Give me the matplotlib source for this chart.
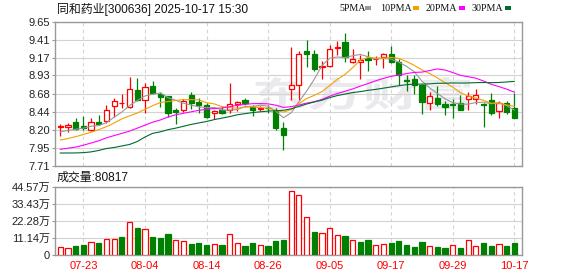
import matplotlib
matplotlib.use("Agg")
import matplotlib.pyplot as plt
from matplotlib.patches import Rectangle, PathPatch
from matplotlib.textpath import TextPath
from matplotlib.font_manager import FontProperties
from matplotlib.transforms import Affine2D, IdentityTransform

# ---------------- data ----------------
dates = ["07-18", "07-21", "07-22", "07-23", "07-24", "07-25", "07-28", "07-29", "07-30", "07-31",
         "08-01", "08-04", "08-05", "08-06", "08-07", "08-08", "08-11", "08-12", "08-13", "08-14",
         "08-15", "08-18", "08-19", "08-20", "08-21", "08-22", "08-25", "08-26", "08-27", "08-28",
         "08-29", "09-01", "09-02", "09-03", "09-04", "09-05", "09-08", "09-09", "09-10", "09-11",
         "09-12", "09-15", "09-16", "09-17", "09-18", "09-19", "09-22", "09-23", "09-24", "09-25",
         "09-26", "09-29", "09-30", "10-09", "10-10", "10-13", "10-14", "10-15", "10-16", "10-17"]
date_labels = ["07-23", "08-04", "08-14", "08-26", "09-05", "09-17", "09-29", "10-17"]

opens = [8.235, 8.235, 8.30, 8.243, 8.19, 8.306, 8.315, 8.516, 8.555, 8.507,
         8.735, 8.596, 8.793, 8.686, 8.65, 8.471, 8.471, 8.663, 8.574, 8.529,
         8.418, 8.471, 8.471, 8.547, 8.605, 8.503, 8.48, 8.497, 8.449, 8.217,
         8.753, 8.798, 9.258, 9.218, 9.048, 9.052, 9.305, 9.379, 9.11, 9.11,
         9.169, 9.148, 9.173, 9.218, 9.106, 8.864, 8.883, 8.798, 8.556, 8.628,
         8.547, 8.547, 8.561, 8.619, 8.619, 8.547, 8.605, 8.449, 8.561, 8.494]
highs = [8.27, 8.283, 8.35, 8.38, 8.36, 8.395, 8.53, 8.628, 8.686, 8.905,
         8.896, 8.83, 8.851, 8.708, 8.659, 8.494, 8.614, 8.708, 8.628, 8.56,
         8.471, 8.50, 8.83, 8.592, 8.628, 8.529, 8.52, 8.529, 8.494, 8.30,
         9.312, 9.263, 9.405, 9.271, 9.12, 9.343, 9.388, 9.50, 9.285, 9.209,
         9.254, 9.186, 9.231, 9.32, 9.155, 8.94, 8.94, 8.815, 8.708, 8.784,
         8.583, 8.614, 8.672, 8.708, 8.748, 8.56, 8.695, 8.583, 8.592, 8.695]
lows = [8.11, 8.17, 8.19, 8.194, 8.18, 8.27, 8.29, 8.37, 8.49, 8.494,
        8.583, 8.427, 8.68, 8.51, 8.368, 8.279, 8.44, 8.48, 8.418, 8.35,
        8.346, 8.404, 8.427, 8.449, 8.529, 8.382, 8.449, 8.427, 8.19, 7.926,
        8.596, 8.605, 9.039, 8.985, 8.887, 9.039, 9.209, 9.106, 9.093, 8.887,
        8.994, 9.075, 9.03, 9.093, 8.806, 8.717, 8.681, 8.404, 8.471, 8.525,
        8.391, 8.35, 8.471, 8.471, 8.547, 8.239, 8.395, 8.359, 8.404, 8.36]
closes = [8.245, 8.266, 8.21, 8.217, 8.30, 8.279, 8.462, 8.583, 8.56, 8.744,
          8.605, 8.78, 8.695, 8.646, 8.422, 8.436, 8.583, 8.561, 8.534, 8.364,
          8.449, 8.418, 8.55, 8.574, 8.56, 8.471, 8.485, 8.492, 8.226, 8.127,
          8.798, 9.218, 9.222, 9.021, 9.055, 9.289, 9.31, 9.173, 9.151, 9.142,
          9.133, 9.153, 9.213, 9.106, 8.932, 8.85, 8.802, 8.57, 8.659, 8.552,
          8.502, 8.538, 8.471, 8.65, 8.663, 8.529, 8.427, 8.561, 8.436, 8.36]

ma5 = [8.17, 8.19, 8.205, 8.22, 8.246, 8.254, 8.294, 8.368, 8.437, 8.526,
       8.591, 8.654, 8.677, 8.694, 8.63, 8.596, 8.556, 8.53, 8.507, 8.496,
       8.498, 8.465, 8.463, 8.471, 8.51, 8.515, 8.528, 8.517, 8.447, 8.361,
       8.426, 8.573, 8.718, 8.877, 9.063, 9.161, 9.179, 9.17, 9.196, 9.213,
       9.182, 9.151, 9.159, 9.15, 9.108, 9.051, 8.981, 8.852, 8.763, 8.687,
       8.617, 8.564, 8.544, 8.543, 8.565, 8.57, 8.548, 8.566, 8.523, 8.463]
ma10 = [8.06, 8.08, 8.105, 8.135, 8.165, 8.20, 8.24, 8.29, 8.345, 8.386,
        8.423, 8.474, 8.523, 8.565, 8.578, 8.593, 8.605, 8.603, 8.601, 8.563,
        8.547, 8.511, 8.496, 8.489, 8.503, 8.506, 8.497, 8.49, 8.459, 8.436,
        8.47, 8.55, 8.618, 8.662, 8.712, 8.794, 8.876, 8.944, 9.036, 9.138,
        9.171, 9.165, 9.164, 9.173, 9.16, 9.117, 9.066, 9.005, 8.956, 8.897,
        8.834, 8.772, 8.698, 8.653, 8.626, 8.594, 8.556, 8.555, 8.533, 8.514]
ma20 = [7.935, 7.95, 7.965, 7.99, 8.02, 8.05, 8.09, 8.12, 8.15, 8.18,
        8.22, 8.26, 8.30, 8.33, 8.37, 8.40, 8.42, 8.44, 8.46, 8.474,
        8.485, 8.492, 8.509, 8.527, 8.54, 8.55, 8.551, 8.547, 8.53, 8.499,
        8.509, 8.531, 8.557, 8.576, 8.607, 8.65, 8.686, 8.717, 8.748, 8.787,
        8.821, 8.858, 8.891, 8.918, 8.936, 8.955, 8.971, 8.975, 8.996, 9.018,
        9.003, 8.969, 8.931, 8.913, 8.893, 8.855, 8.811, 8.78, 8.745, 8.705]
ma30 = [7.885, 7.885, 7.886, 7.89, 7.90, 7.92, 7.945, 7.96, 7.98, 8.00,
        8.04, 8.10, 8.15, 8.17, 8.20, 8.22, 8.245, 8.27, 8.29, 8.31,
        8.335, 8.355, 8.375, 8.40, 8.415, 8.43, 8.44, 8.45, 8.455, 8.461,
        8.48, 8.512, 8.545, 8.572, 8.597, 8.631, 8.659, 8.679, 8.699, 8.712,
        8.73, 8.742, 8.759, 8.775, 8.792, 8.806, 8.813, 8.813, 8.817, 8.824,
        8.825, 8.829, 8.827, 8.829, 8.833, 8.835, 8.833, 8.835, 8.842, 8.85]

# volume in 万 (10k shares)
volume = [5.2, 4.56, 6.08, 6.5, 8.25, 7.8, 10.2, 10.2, 11.7, 21.3,
          17.6, 16.7, 11.7, 11.1, 13.7, 9.55, 8.9, 7.2, 7.8, 6.5,
          6.95, 6.5, 13.5, 7.6, 5.9, 7.6, 6.3, 5.9, 8.9, 9.55,
          41.5, 38.9, 24.5, 15.0, 14.1, 17.4, 12.8, 12.4, 9.55, 8.47,
          9.55, 6.3, 6.95, 7.8, 8.9, 6.5, 5.2, 8.25, 5.86, 5.2,
          4.56, 6.3, 4.56, 9.55, 5.86, 7.8, 5.86, 6.95, 5.86, 8.0817]
vol_up = [1, 1, 0, 0, 1, 0, 1, 1, 0, 1,
          0, 1, 0, 0, 0, 1, 1, 0, 0, 0,
          1, 0, 1, 1, 0, 0, 1, 0, 0, 0,
          1, 1, 1, 0, 1, 1, 1, 0, 1, 0,
          0, 1, 1, 0, 0, 0, 0, 0, 1, 0,
          0, 1, 0, 1, 1, 0, 0, 1, 0, 0]

price_ticks = [9.65, 9.41, 9.17, 8.93, 8.68, 8.44, 8.20, 7.95, 7.71]
vol_ticks = [0, 11.14, 22.28, 33.43, 44.57]
vol_tick_labels = ["0", "11.14万", "22.28万", "33.43万", "44.57万"]
last_volume = 80817

# ---------------- style ----------------
RED = "#ff0000"
GREEN = "#008000"
GRID = "#d3d3d3"
FRAME = "#999999"
MA_COLORS = ["#999999", "#f5a000", "#ff00ff", "#006b2f"]
NUMFONT = ["Liberation Sans", "Noto Sans CJK SC"]

W, H = 578, 276
fig = plt.figure(figsize=(W / 100, H / 100), dpi=100)
ax = fig.add_axes([55 / W, 1 - 166 / H, 467 / W, 144 / H])
axv = fig.add_axes([55 / W, 1 - 255 / H, 467 / W, 68.3 / H])

n = len(closes)
xs = list(range(n))
bw = 0.68

# watermark (stretched text, in pixel coordinates)
tp = TextPath((0, 0), "东方财富", size=1,
              prop=FontProperties(family="Noto Sans CJK SC", weight="bold"))
ext = tp.get_extents()
sx = 215 / ext.width
sy = 33 / ext.height
wm_tr = Affine2D().translate(-ext.x0, -ext.y0).scale(sx, sy).translate(255, H - 110) + IdentityTransform()
ax.add_patch(PathPatch(tp, transform=wm_tr, facecolor="#e9e9ee", edgecolor="none", zorder=0))

# candles
for i in xs:
    o, h, l, c = opens[i], highs[i], lows[i], closes[i]
    up = c >= o
    col = RED if up else GREEN
    ax.vlines(i, l, h, color=col, lw=0.9, zorder=3)
    bottom = min(o, c)
    height = max(abs(c - o), 0.004)
    ax.add_patch(Rectangle((i - bw / 2, bottom), bw, height,
                           facecolor="white" if up else GREEN, edgecolor=col, lw=0.9, zorder=4))

# moving averages
for ma, colr in zip([ma5, ma10, ma20, ma30], MA_COLORS):
    ax.plot(xs, ma, color=colr, lw=0.8, zorder=5)

ax.set_xlim(-0.69, n)
ax.set_ylim(7.71, 9.65)
ax.set_yticks(price_ticks)
ax.set_yticklabels([f"{v:.2f}" for v in price_ticks], family=NUMFONT, fontsize=8)
label_pos = [dates.index(d) for d in date_labels]
ax.set_xticks(label_pos)
ax.set_xticklabels([])
ax.tick_params(axis="x", length=0)
ax.tick_params(axis="y", length=2, color=FRAME, pad=1.5, labelcolor="#222222")
ax.grid(axis="y", color=GRID, lw=0.8, zorder=1)
for p in label_pos:
    ax.axvline(p, color=GRID, lw=0.8, ls=(0, (3, 3)), zorder=1)
for s in ax.spines.values():
    s.set_color(FRAME)
    s.set_linewidth(1.0)

# volume
for i in xs:
    up = vol_up[i] == 1
    col = RED if up else GREEN
    axv.add_patch(Rectangle((i - bw / 2, 0), bw, volume[i],
                            facecolor="white" if up else GREEN, edgecolor=col, lw=0.9, zorder=3))
axv.set_xlim(-0.69, n)
axv.set_ylim(0, 44.57)
axv.set_yticks(vol_ticks)
axv.set_yticklabels(vol_tick_labels, family=NUMFONT, fontsize=8)
axv.set_xticks(label_pos)
axv.set_xticklabels(date_labels, family=NUMFONT, fontsize=8, color=RED)
axv.tick_params(axis="x", length=0, pad=4)
axv.tick_params(axis="y", length=2, color=FRAME, pad=1.5, labelcolor="#222222")
axv.grid(axis="y", color=GRID, lw=0.8, zorder=1)
for p in label_pos:
    axv.axvline(p, color=GRID, lw=0.8, ls=(0, (3, 3)), zorder=1)
for s in axv.spines.values():
    s.set_color(FRAME)
    s.set_linewidth(1.0)

# title & legend
fig.text(57 / W, 1 - 9 / H, "同和药业[300636] 2025-10-17 15:30", ha="left", va="center",
         fontsize=8.6, family=NUMFONT, color="#111111")
legend_items = [("5PMA", 339, 365), ("10PMA", 380, 413), ("20PMA", 426, 459), ("30PMA", 472, 505)]
for (lab, tx, sqx), colr in zip(legend_items, MA_COLORS):
    fig.text(tx / W, 1 - 8.5 / H, lab, ha="left", va="center", fontsize=7.2,
             family=["Liberation Serif"], color="#111111")
    fig.patches.append(Rectangle((sqx / W, 1 - 10 / H), 5.5 / W, 3.5 / H,
                                 transform=fig.transFigure, facecolor=colr, edgecolor="none"))
fig.text(57 / W, 1 - 178 / H, f"成交量:{last_volume}", ha="left", va="center",
         fontsize=8.6, family=NUMFONT, color="#111111")

fig.savefig("out.png", dpi=100)
